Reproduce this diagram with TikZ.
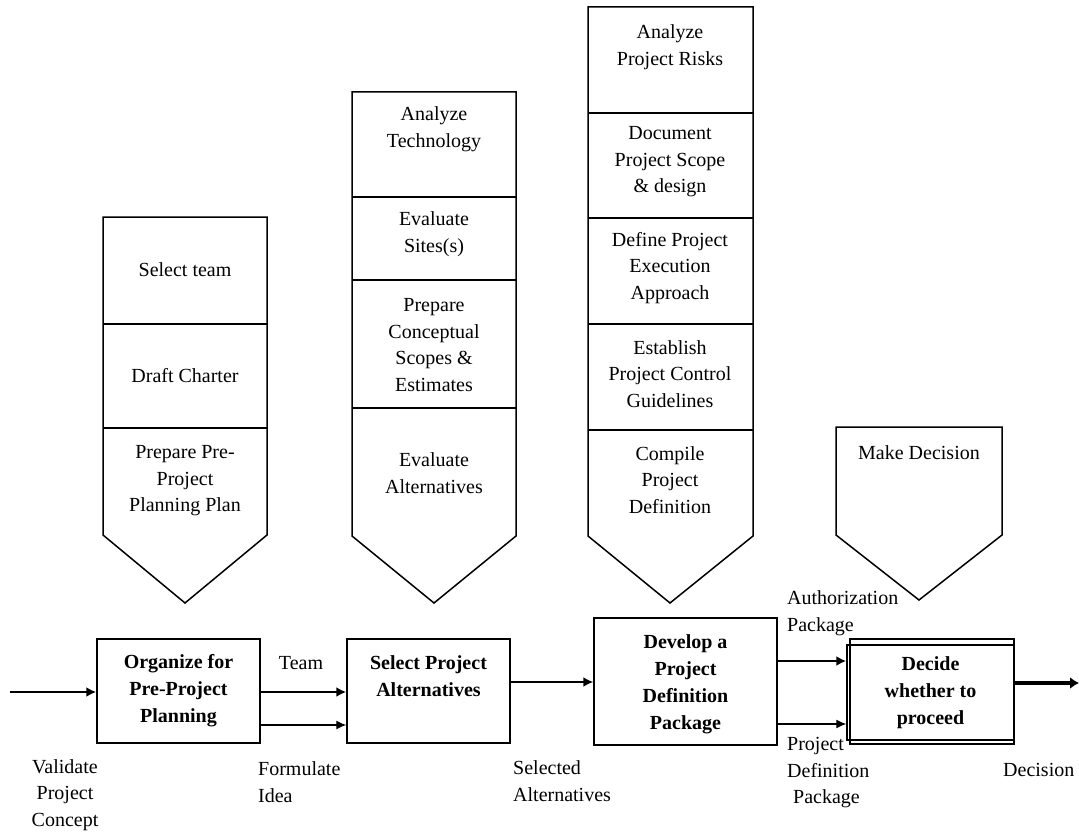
\documentclass[tikz,border=0pt]{standalone}
\usepackage{fontspec}
\setmainfont{Liberation Serif}
\usetikzlibrary{arrows.meta}
\begin{document}
\begin{tikzpicture}[x={(1pt,0)}, y={(0,-1pt)},
  colline/.style={line width=1.5pt, line join=miter},
  divline/.style={line width=1.5pt},
  celltext/.style={align=center, inner sep=0pt,
    font=\fontsize{20}{26.5}\selectfont},
  boxtext/.style={align=center, inner sep=0pt,
    font=\fontsize{20}{27}\selectfont\bfseries},
  stepbox/.style={draw, line width=1.5pt, inner sep=0pt},
  lbl/.style={align=left, inner sep=0pt, anchor=west,
    font=\fontsize{20}{26.5}\selectfont},
  thickflow/.style={line width=2.5pt, -{Latex[length=10pt,width=10pt]}},
  midflow/.style={line width=1.8pt, -{Latex[length=10pt,width=10pt]}},
  thinflow/.style={line width=1.2pt, -{Latex[length=10pt,width=9pt]}}
]
\useasboundingbox (0,0) rectangle (1079,832);

% ---------- activity columns ----------
% column 1
\draw[colline] (103,217) -- (267,217) -- (267,535) -- (185,603) -- (103,535) -- cycle;
\draw[divline] (103,324) -- (267,324);
\draw[divline] (103,428) -- (267,428);
\node[celltext] (c1a) at (185,270) {Select team};
\node[celltext] (c1b) at (185,376) {Draft Charter};
\node[celltext] (c1c) at (185,481) {Prepare Pre-\\Project\\Planning Plan};

% column 2
\draw[colline] (352,92) -- (516,92) -- (516,536) -- (434,603) -- (352,536) -- cycle;
\draw[divline] (352,197) -- (516,197);
\draw[divline] (352,280) -- (516,280);
\draw[divline] (352,408) -- (516,408);
\node[celltext] (c2a) at (434,129) {Analyze\\Technology};
\node[celltext] (c2b) at (434,234) {Evaluate\\Sites(s)};
\node[celltext] (c2c) at (434,345) {Prepare\\Conceptual\\Scopes \&\\Estimates};
\node[celltext] (c2d) at (434,473) {Evaluate\\Alternatives};

% column 3
\draw[colline] (588,7) -- (753,7) -- (753,536) -- (670,603) -- (588,536) -- cycle;
\draw[divline] (588,113) -- (753,113);
\draw[divline] (588,218) -- (753,218);
\draw[divline] (588,324) -- (753,324);
\draw[divline] (588,430) -- (753,430);
\node[celltext] (c3a) at (670,47) {Analyze\\Project Risks};
\node[celltext] (c3b) at (670,162) {Document\\Project Scope\\\& design};
\node[celltext] (c3c) at (670,268) {Define Project\\Execution\\Approach};
\node[celltext] (c3d) at (670,374) {Establish\\Project Control\\Guidelines};
\node[celltext] (c3e) at (670,480) {Compile\\Project\\Definition};

% column 4
\draw[colline] (836,427) -- (1002,427) -- (1002,535) -- (919,600) -- (836,535) -- cycle;
\node[celltext] (c4a) at (919,453) {Make Decision};

% ---------- process boxes ----------
\node[stepbox, minimum width=163pt, minimum height=104pt] (box1) at (178.5,691) {};
\node[stepbox, minimum width=163pt, minimum height=104pt] (box2) at (428.5,691) {};
\node[stepbox, minimum width=183pt, minimum height=127pt] (box3) at (685.5,681.5) {};
\node[stepbox, minimum width=164pt, minimum height=105pt] (box4) at (932,691.5) {};
\node[stepbox, minimum width=167pt, minimum height=95pt] (box4in) at (930.5,692.5) {};

\node[boxtext] (t1) at (178.5,691) {Organize for\\Pre-Project\\Planning};
\node[boxtext] (t2) at (428.5,676) {Select Project\\Alternatives};
\node[boxtext] (t3) at (685.5,684) {Develop a\\Project\\Definition\\Package};
\node[boxtext] (t4) at (930.5,693) {Decide\\whether to\\proceed};

% ---------- flows ----------
\coordinate (in) at (10,692);
\coordinate (out) at (1079,683);
\draw[thickflow] (in) -- (box1.west |- in);
\draw[thickflow] (box1.east |- 0,692) -- (box2.west |- 0,692);
\draw[thinflow] (box1.east |- 0,725) -- (box2.west |- 0,725);
\draw[midflow] (box2.east |- 0,682) -- (box3.west |- 0,682);
\draw[thickflow] (box3.east |- 0,661) -- (box4in.west |- 0,661);
\draw[thinflow] (box3.east |- 0,724) -- (box4in.west |- 0,724);
\draw[line width=3.5pt, -{Latex[length=9pt,width=12pt]}] (box4.east |- out) -- (out);

% ---------- flow labels ----------
\node[celltext] (l1) at (65,795) {Validate\\Project\\Concept};
\node[celltext] (l2) at (301,663) {Team};
\node[lbl] (l3) at (258,782) {Formulate\\Idea};
\node[lbl] (l4) at (513,781) {Selected\\Alternatives};
\node[lbl] (l5) at (787,613) {Authorization\\Package};
\node[lbl] (l6) at (787,773) {Project\\Definition\\\hspace*{6pt}Package};
\node[lbl] (l7) at (1003,770) {Decision};
\end{tikzpicture}
\end{document}
